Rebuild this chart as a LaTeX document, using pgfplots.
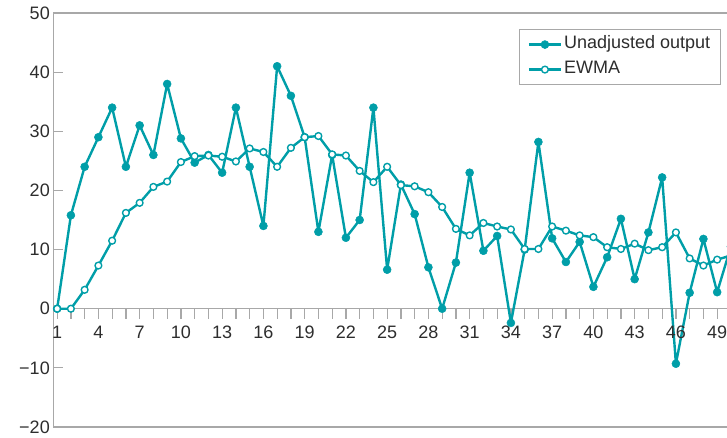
\documentclass[border=0pt]{standalone}
\usepackage{fontspec}
\setmainfont{Liberation Sans}
\usepackage{pgfplots}
\pgfplotsset{compat=1.18}
\definecolor{teal1}{RGB}{0,158,168}
\definecolor{framegray}{RGB}{168,168,168}
\definecolor{txt}{RGB}{45,45,45}
\begin{document}
\begin{tikzpicture}
\useasboundingbox (0pt,0pt) rectangle (727pt,437pt);
\clip (0pt,0pt) rectangle (727pt,437pt);
% zero line with the x ticks (its bottom edge is y = 0 of the main axis)
\begin{axis}[
  at={(53.3pt,128.3pt)}, anchor=south west,
  scale only axis, width=677.6pt, height=295.7pt,
  xmin=0.72, xmax=50, ymin=0, ymax=1,
  axis x line=bottom, axis y line=none,
  x axis line style={-, draw=framegray, line width=1.2pt},
  xtick={1,2,...,50},
  xticklabels={},
  xtick align=outside,
  major tick length=10pt,
  xtick style={draw=framegray, line width=1.2pt},
]
\end{axis}
\begin{axis}[
  name=ax,
  at={(53.3pt,10pt)}, anchor=south west,
  scale only axis, width=677.6pt, height=414pt,
  xmin=0.72, xmax=50, ymin=-20, ymax=50,
  axis line style={draw=framegray, line width=1.2pt},
  xtick=\empty,
  ytick={-20,-10,0,10,20,30,40,50},
  yticklabels={−20,−10,0,10,20,30,40,50},
  ytick pos=left, tick align=inside,
  major tick length=10pt,
  ytick style={draw=framegray, line width=1.2pt},
  yticklabel style={font=\fontsize{18}{21}\selectfont, text=txt},
  legend cell align=left,
  legend style={at={(0.985,0.9606)}, anchor=north east, draw=framegray, line width=1pt,
    font=\fontsize{18}{21}\selectfont, text=txt,
    nodes={inner sep=2pt, text height=13pt, text depth=4.5pt},
    row sep=3.5pt, inner xsep=8pt, inner ysep=4pt},
  legend image code/.code={\draw[mark repeat=2,mark phase=2] plot coordinates {(0pt,0pt) (16pt,0pt) (32pt,0pt)};},
]
\addplot[teal1, line width=2.4pt, line join=round, mark=*, mark size=4pt, mark options={fill=teal1, draw=teal1, line width=0.5pt}] coordinates {
(1,0) (2,15.8) (3,24) (4,29) (5,34) (6,24) (7,31) (8,26) (9,38) (10,28.8)
(11,24.7) (12,26) (13,23) (14,34) (15,24) (16,14) (17,41) (18,36) (19,29) (20,13)
(21,26) (22,12) (23,15) (24,34) (25,6.6) (26,21) (27,16) (28,7) (29,0) (30,7.8)
(31,23) (32,9.8) (33,12.3) (34,-2.4) (35,10) (36,28.2) (37,11.9) (38,7.9) (39,11.3) (40,3.7)
(41,8.7) (42,15.2) (43,5) (44,12.9) (45,22.2) (46,-9.3) (47,2.7) (48,11.8) (49,2.8) (50,10.5)
};
\addlegendentry{Unadjusted output}
\addplot[teal1, line width=2.4pt, line join=round, mark=*, mark size=3.4pt, mark options={fill=white, draw=teal1, line width=1.4pt}] coordinates {
(1,0) (2,0) (3,3.2) (4,7.3) (5,11.5) (6,16.2) (7,17.9) (8,20.6) (9,21.5) (10,24.8)
(11,25.8) (12,25.9) (13,25.7) (14,24.9) (15,27.1) (16,26.5) (17,24.0) (18,27.2) (19,29.0) (20,29.2)
(21,26.1) (22,25.9) (23,23.3) (24,21.4) (25,24.0) (26,20.9) (27,20.7) (28,19.7) (29,17.2) (30,13.5)
(31,12.4) (32,14.5) (33,13.9) (34,13.4) (35,10.1) (36,10.1) (37,13.9) (38,13.2) (39,12.4) (40,12.1)
(41,10.4) (42,10.1) (43,11.0) (44,9.9) (45,10.4) (46,12.9) (47,8.5) (48,7.3) (49,8.3) (50,9.0)
};
\addlegendentry{EWMA}
\pgfplotsinvokeforeach{1,4,7,10,13,16,19,22,25,28,31,34,37,40,43,46,49}{
  \node[anchor=north, inner sep=0pt, font=\fontsize{18}{21}\selectfont, text=txt] at (axis cs:#1,-2.87) {#1};
}
\end{axis}
\end{tikzpicture}
\end{document}
